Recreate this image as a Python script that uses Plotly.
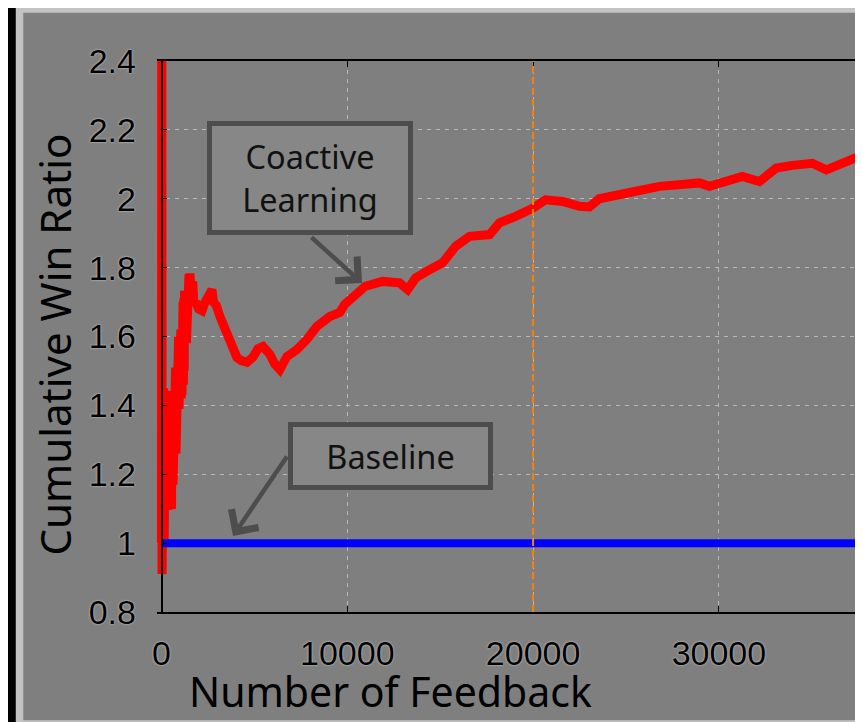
import plotly.graph_objects as go

# ---------------- data ----------------
feedback = [0, 15, 30, 45, 60, 80, 100, 120, 140, 170, 200, 220,
            240, 260, 280, 300, 320, 340, 360, 380, 400, 420, 440, 460, 480, 500, 520, 540,
            560, 580, 600, 620, 640, 660, 680, 700, 720, 740, 760, 780, 800, 820, 840, 860,
            880, 900, 920, 940, 960, 980, 1000, 1020, 1040, 1060, 1080, 1100, 1120, 1140,
            1160, 1180, 1200, 1220, 1240, 1260, 1280, 1300, 1320, 1340, 1360, 1380, 1400,
            1420, 1440, 1460, 1480, 1500, 1530,
            1600, 1680, 1750, 1850, 2000, 2180, 2350, 2550, 2715, 2800, 2950, 3145, 3400, 3680,
            4060, 4300, 4600, 4920, 5200, 5457, 5830, 6100, 6370, 6750, 7285, 7820, 8360, 9060,
            9600, 9860, 10400, 10970, 11900, 12810, 13250, 13680, 14430, 15130, 15830, 16580,
            17660, 18190, 19060, 19970, 20670, 21580, 22500, 23030, 23560, 24620, 25000, 26800,
            28950, 29490, 31260, 32180, 33090, 33950, 35030, 35780, 36480, 37550, 38500]
coactive = [1.0, 2.6, 0.91, 1.9, 1.0, 1.6, 1.05, 1.45, 1.0, 1.4, 1.1, 1.44,
            1.44, 1.10, 1.43, 1.11, 1.44, 1.10, 1.42, 1.12, 1.44, 1.10, 1.43, 1.11, 1.44, 1.12,
            1.42, 1.10, 1.44, 1.12, 1.43, 1.17, 1.50, 1.18, 1.49, 1.17, 1.50, 1.19, 1.51, 1.26,
            1.50, 1.27, 1.51, 1.26, 1.50, 1.30, 1.60, 1.39, 1.62, 1.40, 1.61, 1.41, 1.62, 1.42,
            1.60, 1.43, 1.62, 1.45, 1.70, 1.46, 1.71, 1.50, 1.72, 1.52, 1.70, 1.55, 1.72, 1.58,
            1.70, 1.62, 1.74, 1.65, 1.76, 1.70, 1.78, 1.72, 1.783,
            1.72, 1.76, 1.69, 1.70, 1.68, 1.675, 1.70, 1.73, 1.736, 1.70, 1.69, 1.658, 1.62, 1.59,
            1.539, 1.53, 1.525, 1.54, 1.565, 1.571, 1.548, 1.52, 1.504, 1.542, 1.562, 1.591,
            1.629, 1.658, 1.67, 1.693, 1.72, 1.746, 1.76, 1.756, 1.736, 1.77, 1.794, 1.814,
            1.862, 1.891, 1.896, 1.93, 1.949, 1.972, 1.997, 1.992, 1.978, 1.976, 2.0, 2.007,
            2.016, 2.036, 2.046, 2.036, 2.065, 2.05, 2.089, 2.097, 2.103, 2.084, 2.099, 2.123,
            2.13]
baseline_x = [0, 38500]
baseline_y = [1.0, 1.0]
x_ticks = [0, 10000, 20000, 30000]
x_tick_labels = ["0", "10000", "20000", "30000"]
y_ticks = [0.8, 1.0, 1.2, 1.4, 1.6, 1.8, 2.0, 2.2, 2.4]
y_tick_labels = ["0.8", "1", "1.2", "1.4", "1.6", "1.8", "2", "2.2", "2.4"]
highlight_x = 20000
offscreen_tick_label = "40000"
offscreen_tick_value = 40000

# ---------------- geometry (page pixels; the page body adds an 8px offset) ----------------
OFF = 8
PAGE_W, PAGE_H = 863, 722
W, H = PAGE_W - OFF, PAGE_H - OFF
PLOT_LEFT, PLOT_TOP, PLOT_BOTTOM = 157, 61, 612   # page pixels
L = PLOT_LEFT - OFF
T = PLOT_TOP - OFF
B = PAGE_H - PLOT_BOTTOM
PW, PH = W - L, H - T - B
PX_PER_UNIT = 0.01858
ZERO_PX = 161.5
x_min = -(ZERO_PX - PLOT_LEFT) / PX_PER_UNIT
x_max = x_min + PW / PX_PER_UNIT


def px2x(px):
    return (px - PLOT_LEFT) / PW


def py2y(py):
    return (PLOT_BOTTOM - py) / PH


tick_font = dict(family="Liberation Sans", size=34, color="black",
                 shadow="0px 0px 2px #e8e8e8")
xlabel_font = dict(family="Noto Sans", size=41, color="black")
ylabel_font = dict(family="Noto Sans", size=42, color="black")
box_font = dict(family="Noto Sans", size=32.5, color="#111111")

fig = go.Figure()
fig.add_trace(go.Scatter(x=feedback, y=coactive, mode="lines",
                         line=dict(color="#ff0000", width=9), showlegend=False))
fig.add_trace(go.Scatter(x=baseline_x, y=baseline_y, mode="lines",
                         line=dict(color="#0000ff", width=8), showlegend=False))

fig.update_layout(
    width=W, height=H,
    margin=dict(l=L, r=0, t=T, b=B, pad=0),
    paper_bgcolor="#000000",
    plot_bgcolor="rgba(0,0,0,0)",
    showlegend=False,
    xaxis=dict(range=[x_min, x_max], tickvals=x_ticks, ticktext=x_tick_labels,
               showline=True, linecolor="black", linewidth=1.5, mirror="ticks",
               ticks="inside", ticklen=6, tickcolor="black",
               showgrid=True, gridcolor="#b8b8b8", gridwidth=1, griddash="4px,5px",
               zeroline=False, tickfont=tick_font, ticklabelstandoff=10,
               layer="above traces"),
    yaxis=dict(range=[0.8, 2.4], tickvals=y_ticks, ticktext=y_tick_labels,
               anchor="free", position=(ZERO_PX - PLOT_LEFT) / PW,
               showline=True, linecolor="black", linewidth=1.5, mirror=False,
               ticks="inside", ticklen=5, tickcolor="black",
               showgrid=True, gridcolor="#b8b8b8", gridwidth=1, griddash="4px,5px",
               zeroline=False, tickfont=tick_font, ticklabelstandoff=18,
               layer="above traces"),
)

shapes = [
    dict(type="rect", xref="paper", yref="paper", layer="below",
         x0=px2x(19.5), x1=px2x(1000), y0=py2y(9), y1=py2y(724),
         fillcolor="#7f7f7f", line=dict(color="#c3c3c3", width=7.5)),
    dict(type="line", xref="x", yref="paper", layer="above",
         x0=highlight_x, x1=highlight_x, y0=0, y1=1,
         line=dict(color="#ff8000", width=2, dash="7px,4px")),
]
fig.update_layout(shapes=shapes)

annotations = [
    # axis titles
    dict(text="Cumulative Win Ratio", xref="paper", yref="paper",
         x=px2x(53.5), y=py2y(345), textangle=-90, showarrow=False,
         font=ylabel_font, xanchor="center", yanchor="middle"),
    dict(text="Number of Feedback", xref="paper", yref="paper",
         x=px2x(390), y=py2y(691), showarrow=False,
         font=xlabel_font, xanchor="center", yanchor="middle"),
    # partially visible tick label beyond the right edge
    dict(text=offscreen_tick_label, xref="paper", yref="paper",
         x=px2x(ZERO_PX + offscreen_tick_value * PX_PER_UNIT), y=py2y(657),
         showarrow=False, font=tick_font, xanchor="center", yanchor="middle"),
    # callout boxes
    dict(text="Coactive<br>Learning", xref="paper", yref="paper",
         x=px2x(310), y=py2y(178), showarrow=False, font=box_font,
         xanchor="center", yanchor="middle",
         width=196, height=104, borderwidth=5, borderpad=0,
         bordercolor="#4d4d4d", bgcolor="#878787", align="center"),
    dict(text="Baseline", xref="paper", yref="paper",
         x=px2x(390.5), y=py2y(456), showarrow=False, font=box_font,
         xanchor="center", yanchor="middle",
         width=195, height=58, borderwidth=5, borderpad=0,
         bordercolor="#4d4d4d", bgcolor="#878787", align="center"),
    # arrows
    dict(text="", xref="paper", yref="paper", x=px2x(362), y=py2y(283),
         ax=-52, ay=-47, showarrow=True, arrowhead=4, arrowsize=1.4,
         arrowwidth=4.5, arrowcolor="#4d4d4d"),
    dict(text="", xref="paper", yref="paper", x=px2x(233), y=py2y(536),
         ax=55, ay=-81, showarrow=True, arrowhead=4, arrowsize=1.4,
         arrowwidth=4.5, arrowcolor="#4d4d4d"),
]
fig.update_layout(annotations=annotations)

fig.write_html("out.html")
